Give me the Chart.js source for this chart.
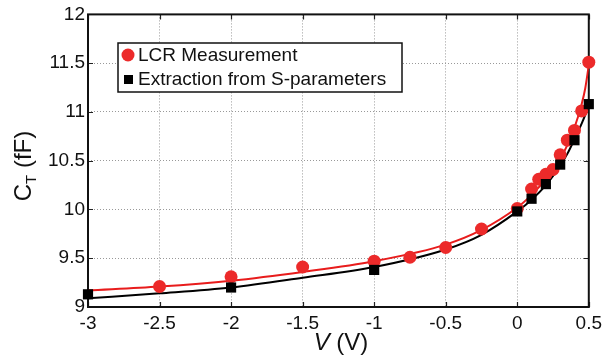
<!DOCTYPE html>
<html>
<head>
<meta charset="utf-8">
<script src="https://cdn.jsdelivr.net/npm/chart.js@4/dist/chart.umd.min.js"></script>
<style>
  html, body { margin: 0; padding: 0; background: #fff; }
  #wrap { width: 607px; height: 359px; }
</style>
</head>
<body>
<div id="wrap"><canvas id="c"></canvas></div>
<script>
// measured points
var lcrV = [-2.5, -2, -1.5, -1, -0.75, -0.5, -0.25, 0, 0.1, 0.15, 0.2, 0.25, 0.3, 0.35, 0.4, 0.45, 0.5];
var lcrC = [9.21, 9.31, 9.41, 9.47, 9.51, 9.61, 9.80, 10.01, 10.21, 10.31, 10.36, 10.41, 10.56, 10.71, 10.81, 11.01, 11.51];

var sparV = [-3, -2, -1, 0, 0.1, 0.2, 0.3, 0.4, 0.5];
var sparC = [9.13, 9.20, 9.38, 9.98, 10.11, 10.26, 10.46, 10.71, 11.08];

// fitted curves
var fitV = [-3, -2.5, -2, -1.5, -1, -0.5, -0.25, 0, 0.1, 0.2, 0.3, 0.35, 0.4, 0.45, 0.475, 0.5];
var fitRed = [9.17, 9.21, 9.27, 9.36, 9.47, 9.64, 9.79, 10.02, 10.15, 10.31, 10.52, 10.66, 10.84, 11.08, 11.24, 11.48];
var fitBlack = [9.09, 9.14, 9.20, 9.30, 9.41, 9.59, 9.74, 9.98, 10.10, 10.25, 10.45, 10.57, 10.72, 10.88, 10.97, 11.08];

var xTicks = [-3, -2.5, -2, -1.5, -1, -0.5, 0, 0.5];
var yTicks = [9, 9.5, 10, 10.5, 11, 11.5, 12];

var red = "#ec2a2a";
var font = '"Liberation Sans", Arial, sans-serif';

function pts(xs, ys) {
  return xs.map(function (x, i) { return { x: x, y: ys[i] }; });
}

var frame = {
  id: "frame",
  beforeDatasetsDraw: function (chart) {
    var ctx = chart.ctx, a = chart.chartArea;
    var xs = chart.scales.x, ys = chart.scales.y;
    ctx.save();
    ctx.strokeStyle = "#222";
    ctx.lineWidth = 1.2;
    ctx.beginPath();
    xTicks.forEach(function (v) {
      var px = Math.round(xs.getPixelForValue(v)) + 0.5;
      ctx.moveTo(px, a.bottom); ctx.lineTo(px, a.bottom - 5);
      ctx.moveTo(px, a.top); ctx.lineTo(px, a.top + 5);
    });
    yTicks.forEach(function (v) {
      var py = Math.round(ys.getPixelForValue(v)) + 0.5;
      ctx.moveTo(a.left, py); ctx.lineTo(a.left + 5, py);
      ctx.moveTo(a.right, py); ctx.lineTo(a.right - 5, py);
    });
    ctx.stroke();
    ctx.strokeStyle = "#111";
    ctx.lineWidth = 2;
    ctx.strokeRect(a.left, a.top, a.right - a.left, a.bottom - a.top);
    ctx.restore();
  },
  afterDraw: function (chart) {
    var ctx = chart.ctx;
    ctx.save();
    // x axis title
    ctx.fillStyle = "#111";
    ctx.textBaseline = "middle";
    ctx.font = "italic 24px " + font;
    var w1 = ctx.measureText("V").width;
    ctx.font = "24px " + font;
    var w2 = ctx.measureText(" (V)").width;
    var x0 = 341 - (w1 + w2) / 2;
    ctx.font = "italic 24px " + font;
    ctx.textAlign = "left";
    ctx.fillText("V", x0, 343);
    ctx.font = "24px " + font;
    ctx.fillText(" (V)", x0 + w1, 343);

    // y axis title
    ctx.translate(24, 166);
    ctx.rotate(-Math.PI / 2);
    ctx.font = "24px " + font;
    var cW = ctx.measureText("C").width;
    ctx.font = "15px " + font;
    var tW = ctx.measureText("T").width;
    ctx.font = "24px " + font;
    var rW = ctx.measureText(" (fF)").width;
    var sx = -(cW + tW + rW) / 2;
    ctx.fillText("C", sx, 0);
    ctx.font = "15px " + font;
    ctx.fillText("T", sx + cW, 8);
    ctx.font = "24px " + font;
    ctx.fillText(" (fF)", sx + cW + tW, 0);
    ctx.restore();

    // legend
    ctx.save();
    ctx.fillStyle = "#fff";
    ctx.fillRect(118, 43, 284, 49);
    ctx.strokeStyle = "#111";
    ctx.lineWidth = 1.5;
    ctx.strokeRect(118, 43, 284, 49);
    ctx.fillStyle = red;
    ctx.beginPath();
    ctx.arc(128, 55, 6.5, 0, Math.PI * 2);
    ctx.fill();
    ctx.fillStyle = "#000";
    ctx.fillRect(124, 75, 9, 9);
    ctx.fillStyle = "#111";
    ctx.font = "19px " + font;
    ctx.textAlign = "left";
    ctx.textBaseline = "middle";
    ctx.fillText("LCR Measurement", 138, 56);
    ctx.fillText("Extraction from S-parameters", 138, 80);
    ctx.restore();
  }
};

new Chart(document.getElementById("c"), {
  type: "scatter",
  data: {
    datasets: [
      {
        label: "LCR fit",
        data: pts(fitV, fitRed),
        showLine: true,
        borderColor: "#e81c1c",
        borderWidth: 2,
        pointRadius: 0,
        cubicInterpolationMode: "monotone",
        order: 4
      },
      {
        label: "S-parameter fit",
        data: pts(fitV, fitBlack),
        showLine: true,
        borderColor: "#000",
        borderWidth: 2,
        pointRadius: 0,
        cubicInterpolationMode: "monotone",
        order: 3
      },
      {
        label: "LCR Measurement",
        data: pts(lcrV, lcrC),
        pointStyle: "circle",
        pointRadius: 6.5,
        backgroundColor: red,
        borderColor: red,
        borderWidth: 0,
        clip: false,
        order: 2
      },
      {
        label: "Extraction from S-parameters",
        data: pts(sparV, sparC),
        pointStyle: "rect",
        pointRadius: 7.2,
        backgroundColor: "#000",
        borderColor: "#000",
        borderWidth: 0,
        clip: false,
        order: 1
      }
    ]
  },
  options: {
    responsive: true,
    maintainAspectRatio: false,
    animation: false,
    events: [],
    layout: { padding: { top: 13, right: 13, left: 0, bottom: 0 } },
    plugins: {
      legend: { display: false },
      tooltip: { enabled: false }
    },
    scales: {
      x: {
        type: "linear",
        min: -3,
        max: 0.5,
        afterFit: function (s) { s.height = 52; },
        afterBuildTicks: function (s) { s.ticks = xTicks.map(function (v) { return { value: v }; }); },
        border: { display: false, dash: [1, 2] },
        grid: { color: "#999", lineWidth: 1, drawTicks: false },
        ticks: {
          padding: 5,
          color: "#111",
          font: { family: font, size: 19 },
          maxRotation: 0,
          callback: function (v) { return String(v); }
        }
      },
      y: {
        type: "linear",
        min: 9,
        max: 12,
        afterFit: function (s) { s.width = 88; },
        afterBuildTicks: function (s) { s.ticks = yTicks.map(function (v) { return { value: v }; }); },
        border: { display: false, dash: [1, 2] },
        grid: { color: "#999", lineWidth: 1, drawTicks: false },
        ticks: {
          padding: 3,
          color: "#111",
          font: { family: font, size: 19 },
          callback: function (v) { return String(v); }
        }
      }
    }
  },
  plugins: [frame]
});
</script>
</body>
</html>
